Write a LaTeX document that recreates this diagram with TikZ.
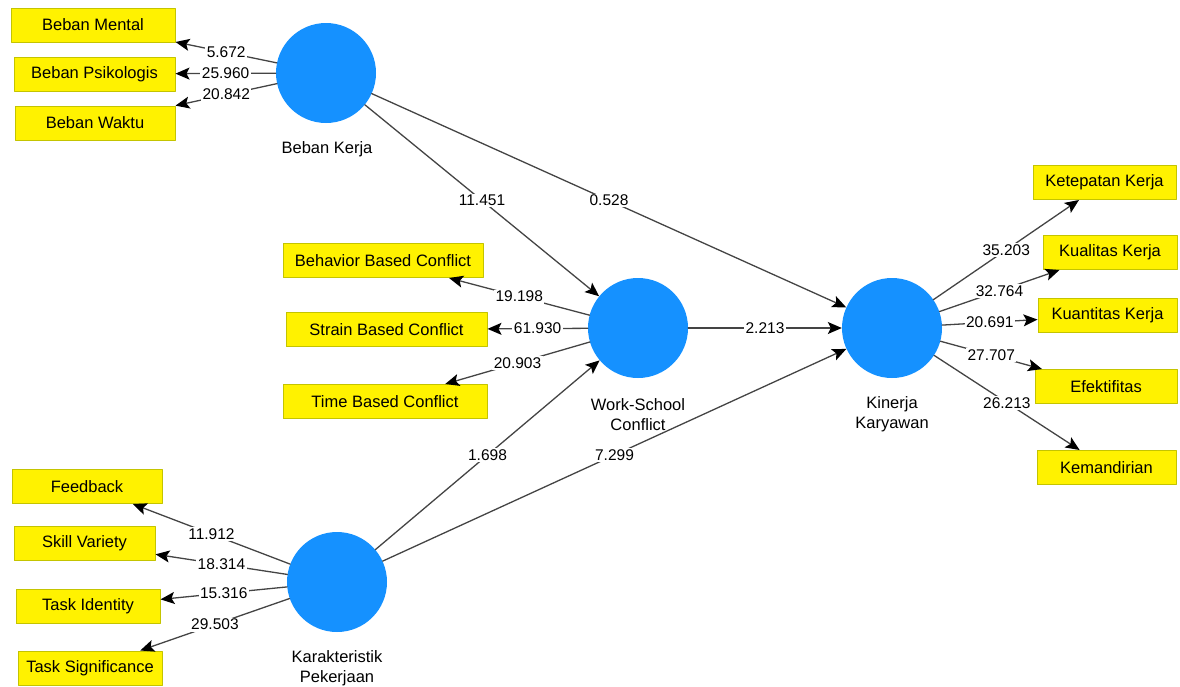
\documentclass[tikz,border=0pt]{standalone}
\usepackage{fontspec}
\setmainfont{Liberation Sans}
\usepackage{xcolor}
\usetikzlibrary{arrows.meta}
\definecolor{lvblue}{HTML}{1591FF}
\definecolor{boxline}{HTML}{C4C400}
\definecolor{linkgray}{HTML}{444444}

\begin{document}
\begin{tikzpicture}[line cap=round,line join=round,x=1pt,y=-1pt,>={Stealth[length=14pt,width=12pt,inset=3pt,color=black]}]
\tikzstyle{every node}=[font=\fontsize{16.5}{20}\selectfont]
\tikzstyle{lv}=[circle,fill=lvblue,minimum size=100pt,inner sep=0pt]
\tikzstyle{ind}=[rectangle,draw=boxline,line width=1pt,fill=yellow,minimum height=34pt,inner sep=0pt]
\tikzstyle{link}=[->,draw=linkgray,line width=1.3pt]
\tikzstyle{coef}=[fill=white,inner sep=1.5pt,font=\fontsize{15.5}{18}\selectfont]
\useasboundingbox (0,0) rectangle (1180,686);
% latent variables
\node[lv] (bk) at (326,73) {};
\node[lv] (wsc) at (638,328) {};
\node[lv] (kk) at (892,328) {};
\node[lv] (kp) at (337,582) {};
\node (bkl) at (327,149) {Beban Kerja};
\node[align=center] (wscl) at (638,415) {Work-School\\Conflict};
\node[align=center] (kkl) at (892,414) {Kinerja\\Karyawan};
\node[align=center] (kpl) at (337,668) {Karakteristik\\Pekerjaan};
% indicators
\node[ind,minimum width=164pt] (bm) at (93,25) {Beban Mental};
\node[ind,minimum width=161pt] (bp) at (94.5,74) {Beban Psikologis};
\node[ind,minimum width=160pt] (bw) at (95,123) {Beban Waktu};
\node[ind,minimum width=200pt] (bbc) at (383,260.5) {Behavior Based Conflict};
\node[ind,minimum width=201pt] (sbc) at (386.5,329.5) {Strain Based Conflict};
\node[ind,minimum width=204pt] (tbc) at (385,401.5) {Time Based Conflict};
\node[ind,minimum width=143pt] (ketk) at (1104.5,182.5) {Ketepatan Kerja};
\node[ind,minimum width=134pt] (kualk) at (1110,252.5) {Kualitas Kerja};
\node[ind,minimum width=139pt] (kuank) at (1107.5,315.5) {Kuantitas Kerja};
\node[ind,minimum width=142pt] (efk) at (1106,386.5) {Efektifitas};
\node[ind,minimum width=139pt] (kem) at (1106.5,467.5) {Kemandirian};
\node[ind,minimum width=150pt] (fb) at (87,486.5) {Feedback};
\node[ind,minimum width=141pt] (sv) at (84.5,543.5) {Skill Variety};
\node[ind,minimum width=144pt] (ti) at (88,606.5) {Task Identity};
\node[ind,minimum width=144pt] (ts) at (90,668) {Task Significance};
% outer model
\foreach \t/\v in {bm/5.672,bp/25.960,bw/20.842}
\draw[link] (bk) -- (\t) node[coef,midway] {\v};
\foreach \t/\v in {bbc/19.198,sbc/61.930,tbc/20.903}
\draw[link] (wsc) -- (\t) node[coef,midway] {\v};
\foreach \t/\v in {ketk/35.203,kualk/32.764,kuank/20.691,efk/27.707,kem/26.213}
\draw[link] (kk) -- (\t) node[coef,midway] {\v};
\foreach \t/\v in {fb/11.912,sv/18.314,ti/15.316,ts/29.503}
\draw[link] (kp) -- (\t) node[coef,midway] {\v};
% inner model
\draw[link] (bk) -- (wsc) node[coef,midway] {11.451};
\draw[link] (bk) -- (kk) node[coef,midway] {0.528};
\draw[link] (wsc) -- (kk) node[coef,midway] {2.213};
\draw[link] (kp) -- (wsc) node[coef,midway] {1.698};
\draw[link] (kp) -- (kk) node[coef,midway] {7.299};
\end{tikzpicture}
\end{document}
